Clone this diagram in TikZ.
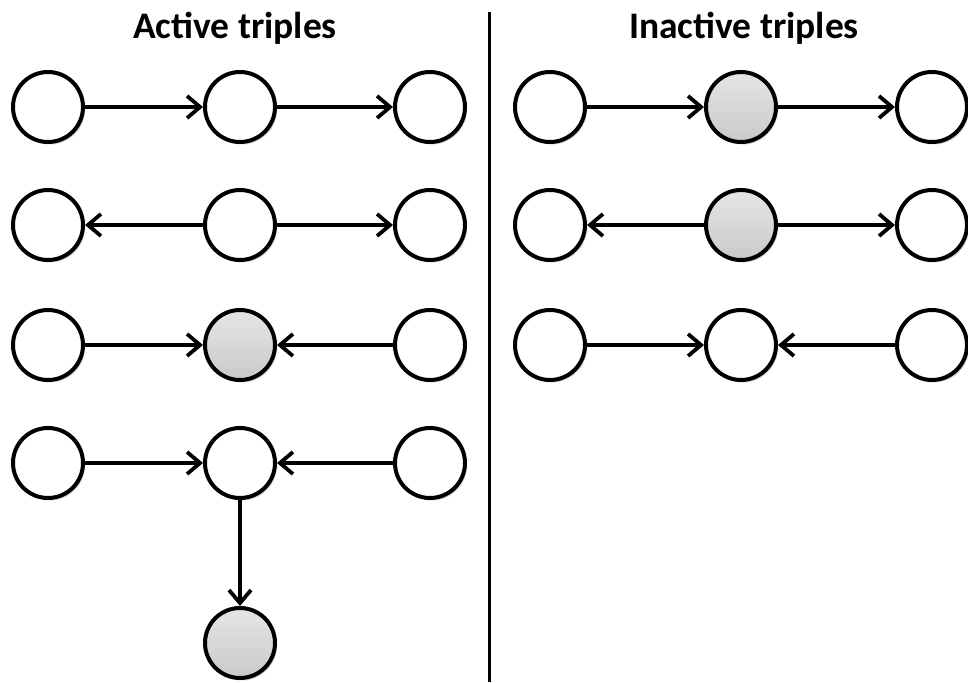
\documentclass[tikz,border=0pt]{standalone}
\usepackage{fontspec}
\setmainfont{Carlito}
\usetikzlibrary{arrows.meta,shadows}
\tikzset{
  var/.style={circle, draw=black, line width=4pt, minimum size=70pt, inner sep=0pt, fill=white,
    drop shadow={opacity=0.18, shadow xshift=2pt, shadow yshift=-2.5pt, fill=black}},
  obs/.style={var, top color=gray!20, bottom color=gray!42},
  edge/.style={line width=3.6pt, -{Straight Barb[length=13pt, width=22pt, line width=3.8pt]}},
  heading/.style={font=\bfseries\fontsize{37.5}{44}\selectfont, anchor=base}
}
\begin{document}
\begin{tikzpicture}[x=1pt, y=-1pt]
\useasboundingbox (0,0) rectangle (968,682);
% headings and divider
\node[heading] (tA) at (235,39) {Active triples};
\node[heading] (tI) at (744,39) {Inactive triples};
\coordinate (dtop) at (489,12);
\coordinate (dbot) at (489,682);
\draw[line width=3pt] (dtop) -- (dbot);

% active: causal chain
\node[var] (a1) at (48,107) {};
\node[var] (b1) at (240,107) {};
\node[var] (c1) at (430,107) {};
\draw[edge] (a1) -- (b1);
\draw[edge] (b1) -- (c1);
% active: common cause
\node[var] (a2) at (48,225) {};
\node[var] (b2) at (240,225) {};
\node[var] (c2) at (430,225) {};
\draw[edge] (b2) -- (a2);
\draw[edge] (b2) -- (c2);
% active: observed common effect
\node[var] (a3) at (48,345) {};
\node[obs] (b3) at (240,345) {};
\node[var] (c3) at (430,345) {};
\draw[edge] (a3) -- (b3);
\draw[edge] (c3) -- (b3);
% active: common effect with observed descendant
\node[var] (a4) at (48,463) {};
\node[var] (b4) at (240,463) {};
\node[var] (c4) at (430,463) {};
\node[obs] (d4) at (240,643) {};
\draw[edge] (a4) -- (b4);
\draw[edge] (c4) -- (b4);
\draw[edge] (b4) -- (d4);

% inactive: observed chain
\node[var] (e1) at (550,107) {};
\node[obs] (f1) at (741,107) {};
\node[var] (g1) at (932,107) {};
\draw[edge] (e1) -- (f1);
\draw[edge] (f1) -- (g1);
% inactive: observed common cause
\node[var] (e2) at (550,225) {};
\node[obs] (f2) at (741,225) {};
\node[var] (g2) at (932,225) {};
\draw[edge] (f2) -- (e2);
\draw[edge] (f2) -- (g2);
% inactive: unobserved common effect
\node[var] (e3) at (550,345) {};
\node[var] (f3) at (741,345) {};
\node[var] (g3) at (932,345) {};
\draw[edge] (e3) -- (f3);
\draw[edge] (g3) -- (f3);
\end{tikzpicture}
\end{document}
